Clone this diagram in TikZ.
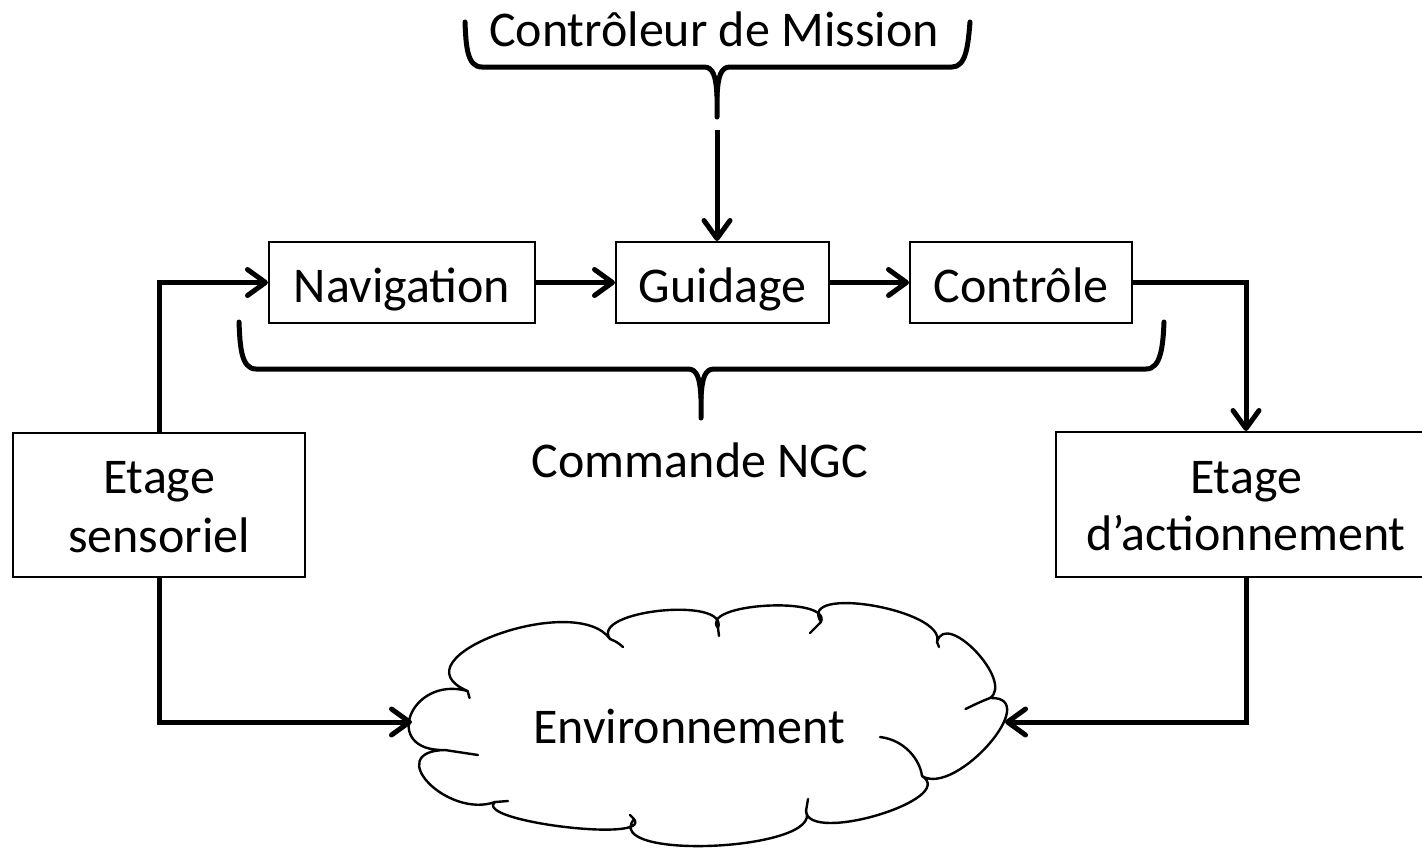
\documentclass[tikz,border=0pt]{standalone}
\usepackage{fontspec}
\setmainfont{Carlito}
\usetikzlibrary{arrows.meta,calc}
% one puff of the cloud: from #1 over the apex #2 to #3
\newcommand\cloudpuff[3]{.. controls ($0.48*(#1)-0.82*(#3)+1.333*(#2)$) and ($0.48*(#3)-0.82*(#1)+1.333*(#2)$) .. (#3)}
\begin{document}
\begin{tikzpicture}[x=1pt,y=-1pt,
  lbl/.style={font=\fontsize{50}{60}\selectfont, inner sep=0pt, anchor=base},
  box/.style={draw, line width=2pt, inner sep=0pt, minimum height=81pt,
    font=\fontsize{50}{60}\selectfont, text height=45pt, text depth=5pt},
  flow/.style={line width=5pt, -{Straight Barb[length=18pt,width=26pt,round]}},
  brace/.style={line width=5pt, line cap=round, line join=round},
  cloudline/.style={line width=2.4pt, line join=round, line cap=round}]
\useasboundingbox (0,0) rectangle (1422,852);

% NGC chain
\node[box, minimum width=266pt] (nav)  at (402,282.5)  {Navigation};
\node[box, minimum width=213pt] (guid) at (722.5,282.5) {Guidage};
\node[box, minimum width=222pt] (ctrl) at (1021,282.5) {Contrôle};

% sensor and actuator stages
\node[box, minimum width=292pt, minimum height=144pt] (sens) at (159,505) {};
\node[lbl] (sens1) at (159,493.5) {Etage};
\node[lbl] (sens2) at (159,552.5) {sensoriel};
\node[box, minimum width=380pt, minimum height=145pt] (act) at (1246,504.5) {};
\node[lbl] (act1) at (1246,493) {Etage};
\node[lbl] (act2) at (1246,550.5) {d’actionnement};

% titles
\node[lbl] (mission) at (714,46.5) {Contrôleur de Mission};
\node[lbl] (ngc) at (700,477) {Commande NGC};

% braces
\draw[brace] (465,22) .. controls (466,46) and (467,67) .. (482,67) -- (704,67)
  .. controls (713,67) and (716,76) .. (717,96) -- (717,117);
\draw[brace] (717,96) .. controls (718,76) and (721,67) .. (730,67) -- (952,67)
  .. controls (966,67) and (968,46) .. (970,22);
\draw[brace] (239,322) .. controls (240,346) and (241,369) .. (256,369) -- (688,369)
  .. controls (697,369) and (700,378) .. (701,398) -- (701,418);
\draw[brace] (701,398) .. controls (702,378) and (705,369) .. (714,369) -- (1146,369)
  .. controls (1161,369) and (1163,346) .. (1164,322);

% cloud: cusps k and apexes q
\coordinate (k1) at (467.6,691);  \coordinate (q1) at (500,638);
\coordinate (k2) at (610,639);    \coordinate (q2) at (664,614);
\coordinate (k3) at (718,628);    \coordinate (q3) at (770,609);
\coordinate (k4) at (821,622);    \coordinate (q4) at (878,609);
\coordinate (k5) at (937,642);    \coordinate (q5) at (981,655);
\coordinate (k6) at (990,698);    \coordinate (q6) at (994,748);
\coordinate (k7) at (922,776);    \coordinate (q7) at (883,819);
\coordinate (k8) at (806,811);    \coordinate (q8) at (718,850);
\coordinate (k9) at (634,819);    \coordinate (q9) at (566,831);
\coordinate (k10) at (495,802);   \coordinate (q10) at (431,787);
\coordinate (k11) at (445,750);   \coordinate (q11) at (413,719);
\draw[cloudline, fill=white] (k11) \cloudpuff{k11}{q11}{k1} \cloudpuff{k1}{q1}{k2}
  \cloudpuff{k2}{q2}{k3} \cloudpuff{k3}{q3}{k4} \cloudpuff{k4}{q4}{k5}
  \cloudpuff{k5}{q5}{k6} \cloudpuff{k6}{q6}{k7} \cloudpuff{k7}{q7}{k8}
  \cloudpuff{k8}{q8}{k9} \cloudpuff{k9}{q9}{k10} \cloudpuff{k10}{q10}{k11} -- cycle;
% inner strokes of the puffs
\draw[cloudline] (k1) -- (469.6,698);
\draw[cloudline] (k2) .. controls (617,642) .. (623,647);
\draw[cloudline] (k3) -- (719,636);
\draw[cloudline] (k4) -- (810,633);
\draw[cloudline] (k5) -- (939,647);
\draw[cloudline] (k6) .. controls (980,702) .. (965.5,709);
\draw[cloudline] (k7) .. controls (920,760) and (905,740) .. (880,737);
\draw[cloudline] (k8) -- (808,799);
\draw[cloudline] (k9) -- (630,815);
\draw[cloudline] (k10) -- (508,801);
\draw[cloudline] (k11) .. controls (458,752) .. (478,755);
\node[lbl] (env) at (689,743) {Environnement};
\coordinate (envL) at (412,722);
\coordinate (envR) at (1005,722);
\coordinate (mtip) at (717,130);

% connectors
\draw[flow] (mtip) -- (mtip |- guid.north);
\draw[flow] (sens.north) |- (nav.west);
\draw[flow] (nav.east) -- (guid.west);
\draw[flow] (guid.east) -- (ctrl.west);
\draw[flow] (ctrl.east) -| (act.north);
\draw[flow] (sens.south) |- (envL);
\draw[flow] (act.south) |- (envR);
\end{tikzpicture}
\end{document}
